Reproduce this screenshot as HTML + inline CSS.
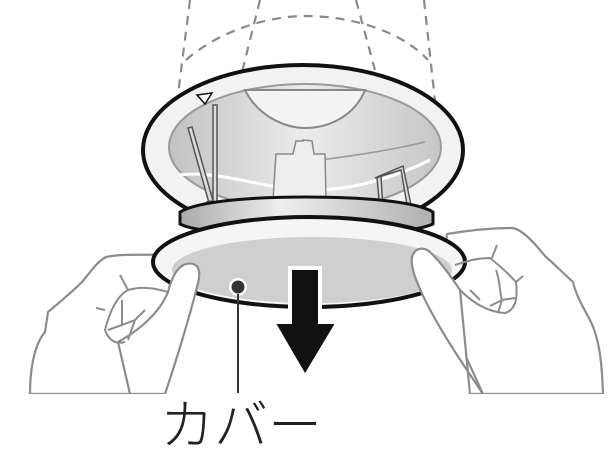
<!DOCTYPE html>
<html><head><meta charset="utf-8"><style>
html,body{margin:0;padding:0;background:#fff;}
svg{display:block;}
</style></head><body>
<svg width="616" height="453" viewBox="0 0 616 453" xmlns="http://www.w3.org/2000/svg">
<defs>
<linearGradient id="inner" x1="0" x2="1" y1="0" y2="0">
<stop offset="0" stop-color="#c2c2c2"/><stop offset="0.5" stop-color="#ececec"/><stop offset="1" stop-color="#c6c6c6"/>
</linearGradient>
<linearGradient id="band" x1="0" x2="1">
<stop offset="0" stop-color="#aaa"/><stop offset="0.4" stop-color="#eee"/><stop offset="1" stop-color="#b0b0b0"/>
</linearGradient>
</defs>
<g fill="none" stroke="#8a8a8a" stroke-width="2.2" stroke-dasharray="9,7">
<path d="M190,0 L176,110"/>
<path d="M260,0 L240,80"/>
<path d="M356,0 L375,70"/>
<path d="M424,0 L436,110"/>
<path d="M186,60 C220,30 270,16 305,16 C350,16 400,30 428,60"/>
</g>
<g fill="#fff" stroke="#8c8c8c" stroke-width="2.2" stroke-linejoin="round">
<path d="M30,394 C30,370 34,345 45,332 L48,312 C60,302 72,292 82,282 C92,270 97,262 106,257 C125,253 145,256 160,254 L175,300 L165,394 Z"/>
<path d="M603,394 C602,365 600,340 590,320 C582,305 576,295 573,282 C560,270 552,262 545,256 C532,240 522,230 513,228 C490,228 465,231 447,234 L440,300 L483,394 Z"/>
</g>
<ellipse cx="303" cy="150" rx="160" ry="85" fill="#f2f2f2" stroke="#111" stroke-width="4"/>
<ellipse cx="305" cy="147" rx="136" ry="63" fill="url(#inner)" stroke="#9a9a9a" stroke-width="2"/>
<path d="M245,90 C260,120 290,128 305,128 C330,128 355,115 365,90 Z" fill="#f4f4f4" stroke="#888" stroke-width="2"/>
<path d="M178,175 C220,170 260,188 305,190 C360,192 410,170 430,160" fill="none" stroke="#fff" stroke-width="3"/>
<path d="M320,160 C360,155 400,148 425,142" fill="none" stroke="#999" stroke-width="1.5"/>
<path d="M273,200 L276,154 L293,154 L296,141 L303,141 L303,140 L312,141 L314,154 L325,154 L326,200 Z" fill="#eee" stroke="#888" stroke-width="1.5"/>
<g stroke="#555" stroke-width="1.5" fill="#ddd">
<path d="M188,128 L211,210 L215,208 L192,127 Z"/>
<path d="M213,105 L213,210 L217,210 L217,105 Z"/>
<path d="M377,178 L380,210 L383,210 L381,176 Z"/>
<path d="M375,178 L403,166 L412,210 L408,210 L401,170 Z"/>
</g>
<circle cx="210" cy="206" r="5" fill="#eee" stroke="#555" stroke-width="1.5"/>
<path d="M197,95 L212,93 L205,104 Z" fill="#fff" stroke="#111" stroke-width="1.5"/>
<path d="M180,212 C200,200 260,197 306,197 C360,197 415,201 433,212 L433,224 C415,232 360,236 306,236 C250,236 195,232 180,224 Z" fill="url(#band)" stroke="#111" stroke-width="3"/>
<ellipse cx="309" cy="262" rx="156" ry="45" fill="#f5f5f5" stroke="#111" stroke-width="4"/>
<ellipse cx="312" cy="270" rx="140" ry="33" fill="#cfcfcf"/>
<g fill="#fff" stroke="#8c8c8c" stroke-width="2.2" stroke-linejoin="round">
<path d="M165,394 C178,355 190,315 198,283 C202,267 196,262 186,264 C176,267 171,280 168,292 C160,312 140,330 118,342 L130,394 Z"/>
<path d="M483,394 C460,360 440,330 425,300 C418,285 410,268 412,257 C415,247 425,246 432,254 C442,264 450,275 460,290 L470,394 Z"/>
</g>
<g fill="none" stroke="#8c8c8c" stroke-width="2">
<path d="M168,292 C160,290 145,285 128,290 C118,295 110,310 105,330 C110,343 118,344 125,342"/>
<path d="M128,290 L120,275 M105,310 L96,308 M122,300 L122,325 L108,330 M122,325 L135,320 L145,310 M135,320 L128,340"/>
<path d="M460,290 C470,300 485,312 505,313 C515,310 518,300 516,282 C505,270 495,262 490,258 C475,258 465,262 455,265"/>
<path d="M492,258 L497,245 M516,282 L523,276 M496,270 C500,280 500,295 502,300 L490,306 M502,300 L515,298 M502,300 L498,313 M470,290 L480,300"/>
</g>
<circle cx="238" cy="287" r="9" fill="#fff"/>
<circle cx="238" cy="287" r="6.5" fill="#333"/>
<line x1="238" y1="294" x2="238" y2="393" stroke="#333" stroke-width="2"/>
<path d="M290,268 L320,268 L320,322 L338,322 L305,377 L273,322 L290,322 Z" fill="#111" stroke="#fff" stroke-width="4" stroke-linejoin="miter"/>
<rect x="0" y="394" width="616" height="60" fill="#fff"/>
<text x="160" y="444" font-family="Liberation Sans, 'Noto Sans CJK JP', sans-serif" font-size="54" font-weight="300" fill="#222">カバー</text>
</svg>
</body></html>
